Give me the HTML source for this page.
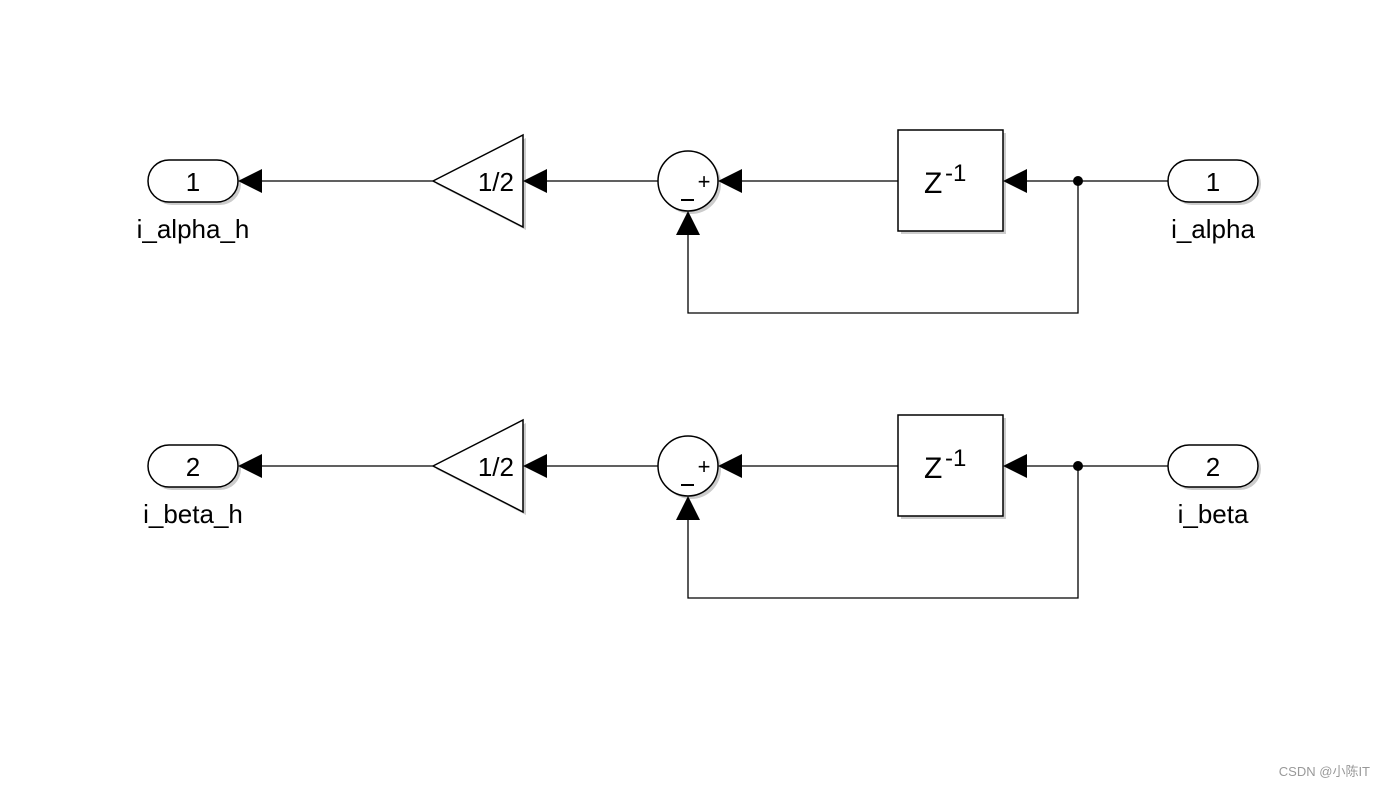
<!DOCTYPE html>
<html><head><meta charset="utf-8"><style>
html,body{margin:0;padding:0;background:#fff;}
svg{display:block;}
text{font-family:"Liberation Sans",Arial,sans-serif;fill:#000;}
</style></head><body>
<svg width="1385" height="786" viewBox="0 0 1385 786" xmlns="http://www.w3.org/2000/svg">
<defs>
<g id="row">
  <!-- shadows -->
  <rect x="151" y="163" width="90" height="42" rx="21" fill="#ccc"/>
  <polygon points="436,184 526,138 526,230" fill="#ccc"/>
  <circle cx="691" cy="184" r="30" fill="#ccc"/>
  <rect x="901" y="133" width="105" height="101" fill="#ccc"/>
  <rect x="1171" y="163" width="90" height="42" rx="21" fill="#ccc"/>
  <!-- lines -->
  <g stroke="#000" stroke-width="1.3" fill="none">
    <line x1="262" y1="181" x2="433" y2="181"/>
    <line x1="547" y1="181" x2="658" y2="181"/>
    <line x1="742" y1="181" x2="898" y2="181"/>
    <line x1="1027" y1="181" x2="1168" y2="181"/>
    <polyline points="1078,181 1078,313 688,313 688,235"/>
  </g>
  <!-- blocks -->
  <rect x="148" y="160" width="90" height="42" rx="21" fill="#fff" stroke="#000" stroke-width="1.5"/>
  <polygon points="433,181 523,135 523,227" fill="#fff" stroke="#000" stroke-width="1.5"/>
  <circle cx="688" cy="181" r="30" fill="#fff" stroke="#000" stroke-width="1.5"/>
  <rect x="898" y="130" width="105" height="101" fill="#fff" stroke="#000" stroke-width="1.5"/>
  <rect x="1168" y="160" width="90" height="42" rx="21" fill="#fff" stroke="#000" stroke-width="1.5"/>
  <!-- arrowheads -->
  <polygon points="238,181 262,169 262,193" fill="#000"/>
  <polygon points="523,181 547,169 547,193" fill="#000"/>
  <polygon points="718,181 742,169 742,193" fill="#000"/>
  <polygon points="1003,181 1027,169 1027,193" fill="#000"/>
  <polygon points="688,211 676,235 700,235" fill="#000"/>
  <circle cx="1078" cy="181" r="5" fill="#000"/>
  <!-- symbols -->
  <text x="514" y="191" font-size="26" text-anchor="end">1/2</text>
  <text x="704" y="189" font-size="22" text-anchor="middle">+</text>
  <rect x="681" y="199" width="13" height="2" fill="#000"/>
  <text x="924" y="193" font-size="30">Z</text>
  <text x="945" y="181" font-size="24">-1</text>
</g>
</defs>
<use href="#row"/>
<use href="#row" transform="translate(0,285)"/>
<g font-size="26">
  <text x="193" y="191" text-anchor="middle" font-size="26">1</text>
  <text x="1213" y="191" text-anchor="middle" font-size="26">1</text>
  <text x="193" y="238" text-anchor="middle">i_alpha_h</text>
  <text x="1213" y="238" text-anchor="middle">i_alpha</text>
  <text x="193" y="476" text-anchor="middle">2</text>
  <text x="1213" y="476" text-anchor="middle">2</text>
  <text x="193" y="523" text-anchor="middle">i_beta_h</text>
  <text x="1213" y="523" text-anchor="middle">i_beta</text>
</g>
<text x="1370" y="776" font-size="13" text-anchor="end" style="fill:#999;font-family:'Liberation Sans','Noto Sans CJK SC',sans-serif">CSDN @小陈IT</text>
</svg>
</body></html>
